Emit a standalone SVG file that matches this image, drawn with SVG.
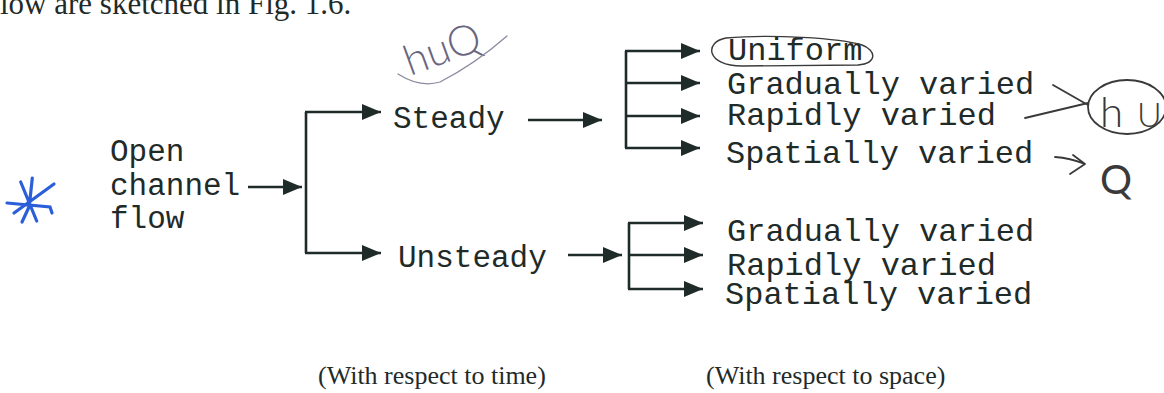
<svg xmlns="http://www.w3.org/2000/svg" width="1164" height="393" viewBox="0 0 1164 393">
<defs>
<style>
.mono{font-family:"Liberation Mono","DejaVu Sans Mono",monospace;font-size:31px;fill:#1f2b29}
.monor{font-family:"Liberation Mono","DejaVu Sans Mono",monospace;font-size:32px;fill:#1f2b29}
.serif{font-family:"Liberation Serif","Times New Roman",serif;fill:#1f2b29}
.con{stroke:#1f2b29;stroke-width:2.6;fill:none}
.hand{fill:none;stroke:#3a3a3a;stroke-width:1.8;stroke-linecap:round;stroke-linejoin:round}
.handtxt{font-family:Lato,"Liberation Sans",Arial,sans-serif;font-weight:300;fill:#3a3a3a}
</style>
<marker id="ah" markerUnits="userSpaceOnUse" markerWidth="19" markerHeight="16" refX="19" refY="8" orient="auto">
<path d="M0,0 L19,8 L0,16 Z" fill="#1f2b29"/>
</marker>
</defs>
<rect width="1164" height="393" fill="#ffffff"/>

<text class="serif" x="0" y="14" font-size="31">low are sketched in Fig. 1.6.</text>

<g id="star">
<path d="M20.7,182 L36.7,221 M32.3,178 L29.3,206 M54,184 L14,213 M7,203 L50,207 L52,213 M22,222 L29,207" fill="none" stroke="#2b5fd9" stroke-width="3.2" stroke-linecap="round"/>
</g>

<g id="open-channel-flow">
<text class="mono" x="110" y="161">Open</text>
<text class="mono" x="110" y="195">channel</text>
<text class="mono" x="110" y="228">flow</text>
</g>

<g id="steady"><text class="mono" x="393" y="128">Steady</text></g>
<g id="unsteady"><text class="mono" x="398" y="267">Unsteady</text></g>

<g id="steady-types">
<text class="monor" x="728" y="60">Uniform</text>
<text class="monor" x="727" y="94">Gradually varied</text>
<text class="monor" x="727" y="125">Rapidly varied</text>
<text class="monor" x="726" y="163">Spatially varied</text>
</g>

<g id="unsteady-types">
<text class="monor" x="727" y="241">Gradually varied</text>
<text class="monor" x="727" y="275">Rapidly varied</text>
<text class="monor" x="725" y="304">Spatially varied</text>
</g>

<g id="connectors">
<path class="con" d="M248,187 H302" marker-end="url(#ah)"/>
<path class="con" d="M306,112 V253"/>
<path class="con" d="M305,112 H381" marker-end="url(#ah)"/>
<path class="con" d="M305,253 H381" marker-end="url(#ah)"/>
<path class="con" d="M528,120 H602" marker-end="url(#ah)"/>
<path class="con" d="M626,51 V148"/>
<path class="con" d="M625,51 H700" marker-end="url(#ah)"/>
<path class="con" d="M625,83 H700" marker-end="url(#ah)"/>
<path class="con" d="M625,116 H700" marker-end="url(#ah)"/>
<path class="con" d="M625,148 H700" marker-end="url(#ah)"/>
<path class="con" d="M568,255 H622" marker-end="url(#ah)"/>
<path class="con" d="M629,223 V289"/>
<path class="con" d="M628,223 H703" marker-end="url(#ah)"/>
<path class="con" d="M628,255 H703" marker-end="url(#ah)"/>
<path class="con" d="M628,289 H703" marker-end="url(#ah)"/>
</g>

<g id="annotations">
<text class="handtxt" x="410" y="76" font-size="42" style="fill:#6a6580" transform="rotate(-20 410 76)">huQ</text>
<path class="hand" d="M398,74 Q420,88 440,82 Q475,64 507,36" style="stroke:#8a8aa0;stroke-width:1.3"/>
<path class="hand" d="M726,38 C704,42 706,66 742,66 L858,65 C878,63 876,50 862,45 C840,38 770,34 726,38" style="stroke-width:1.4"/>
<path class="hand" d="M1053,85 L1088,105 M1025,118 L1088,103"/>
<ellipse class="hand" cx="1127" cy="107" rx="39" ry="27"/>
<text class="handtxt" x="1100" y="127"><tspan font-size="42">h</tspan><tspan font-size="34" dx="14">U</tspan></text>
<path class="hand" d="M1055,157 Q1070,158 1085,164 M1073,155 L1085,164 L1070,174"/>
<text class="handtxt" x="1100" y="194" font-size="40" style="font-weight:400">Q</text>
</g>

<text class="serif" x="318" y="384" font-size="26">(With respect to time)</text>
<text class="serif" x="706" y="384" font-size="26">(With respect to space)</text>
</svg>
